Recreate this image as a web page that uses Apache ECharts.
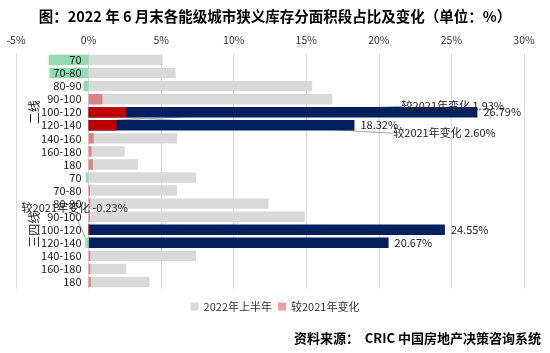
<!DOCTYPE html>
<html>
<head>
<meta charset="utf-8">
<script src="https://cdn.jsdelivr.net/npm/echarts@6.0.0/dist/echarts.min.js"></script>
<style>
  html, body { margin: 0; padding: 0; background: #fff; }
  #chart { width: 550px; height: 353px; }
</style>
</head>
<body>
<div id="chart"></div>
<script>
// size bands (㎡), repeated for each city tier
const bands = ['70', '70-80', '80-90', '90-100', '100-120', '120-140', '140-160', '160-180', '180'];
const tiers = ['二线', '三四线'];
const categories = tiers.flatMap(() => bands);

// 2022 H1 share of inventory (%)
const share2022 = [
  5.1, 6.0, 15.4, 16.8, 26.79, 18.32, 6.1, 2.5, 3.4,
  7.4, 6.1, 12.4, 14.9, 24.55, 20.67, 7.4, 2.6, 4.2
];
// change vs 2021 (percentage points)
const change2021 = [
  -2.75, -2.7, -0.35, 0.95, 2.60, 1.93, 0.35, 0.2, 0.3,
  -0.2, 0.1, 0.12, 0.1, 0.08, -0.23, 0.12, 0.12, 0.15
];
// rows that get highlighted and labelled
const keyRows = [4, 5, 13, 14];
const changeLabelRows = [4, 5, 14];

const FONT = '"Noto Sans CJK SC", "Noto Sans", sans-serif';
const GRAY = '#d9d9d9';
const NAVY = '#002060';
const PINK = '#d98585';
const DARKRED = '#c00000';
const GREEN = '#96dab4';

// relative offsets of the moved change labels
const changeLabelShift = {
  4: { dx: 262, dy: 21 },
  5: { dx: 280, dy: -19 },
  14: { dx: -72, dy: -35 }
};

const chart = echarts.init(document.getElementById('chart'), null, { renderer: 'canvas' });

const shareData = share2022.map((v, i) => {
  if (!keyRows.includes(i)) return v;
  return {
    value: v,
    itemStyle: { color: NAVY },
    label: {
      show: true,
      position: 'right',
      distance: 6,
      formatter: (p) => p.value.toFixed(2) + '%'
    }
  };
});

const changeData = change2021.map((v, i) => {
  let color = v < 0 ? GREEN : PINK;
  if (keyRows.includes(i) && v > 0) color = DARKRED;
  const item = { value: v, itemStyle: { color } };
  if (changeLabelRows.includes(i)) {
    item.label = {
      show: true,
      position: 'right',
      formatter: (p) => '较2021年变化 ' + p.value.toFixed(2) + '%'
    };
  }
  return item;
});

chart.setOption({
  animation: false,
  backgroundColor: '#fff',
  title: {
    text: '图：2022 年 6 月末各能级城市狭义库存分面积段占比及变化（单位：%）',
    left: 'center',
    top: 4,
    textStyle: { fontFamily: FONT, fontSize: 14.5, fontWeight: 'bold', color: '#000' }
  },
  legend: {
    bottom: 36,
    left: 'center',
    icon: 'rect',
    itemWidth: 8,
    itemHeight: 8,
    itemGap: 6,
    textStyle: { fontFamily: FONT, fontSize: 11, color: '#333' },
    data: [
      { name: '2022年上半年', itemStyle: { color: GRAY } },
      { name: '较2021年变化', itemStyle: { color: '#e8a0a0' } }
    ]
  },
  grid: { left: 16, right: 26, top: 53.5, bottom: 64.5, outerBoundsMode: 'none' },
  xAxis: {
    type: 'value',
    position: 'top',
    min: -5,
    max: 30,
    interval: 5,
    axisLine: { show: false },
    axisTick: { show: false },
    axisLabel: {
      formatter: (v) => v + '%',
      fontFamily: FONT,
      fontSize: 10.5,
      color: '#333',
      margin: 8
    },
    splitLine: { lineStyle: { color: '#d9d9d9', width: 1 } }
  },
  yAxis: {
    type: 'category',
    data: categories,
    inverse: true,
    z: 10,
    axisLine: { show: false },
    axisTick: { show: false },
    splitLine: { show: false },
    axisLabel: { fontFamily: FONT, fontSize: 11, color: '#222', margin: 7, interval: 0 }
  },
  series: [
    {
      name: '2022年上半年',
      type: 'bar',
      barCategoryGap: '20%',
      itemStyle: { color: GRAY },
      label: { fontFamily: FONT, fontSize: 11, color: '#222' },
      data: shareData
    },
    {
      name: '较2021年变化',
      type: 'bar',
      barGap: '-100%',
      barCategoryGap: '20%',
      itemStyle: { color: PINK },
      label: { fontFamily: FONT, fontSize: 11, color: '#222' },
      labelLine: { show: true, lineStyle: { color: '#a6a6a6', width: 1 } },
      labelLayout: (p) => changeLabelShift[p.dataIndex] || {},
      data: changeData
    }
  ]
});

// move the category labels next to the 0% line
const zeroShift = chart.convertToPixel({ xAxisIndex: 0 }, 0) - chart.convertToPixel({ xAxisIndex: 0 }, -5);

// tier labels, centred on each group of rows
const graphics = tiers.map((t, k) => {
  const mid = k * bands.length + (bands.length - 1) / 2;
  const y = chart.convertToPixel({ yAxisIndex: 0 }, mid);
  return {
    type: 'text',
    x: 34,
    y: y,
    rotation: Math.PI / 2,
    style: {
      text: t,
      font: '12px ' + FONT,
      fill: '#222',
      align: 'center',
      verticalAlign: 'middle'
    }
  };
});
graphics.push({
  type: 'text',
  right: 9,
  bottom: 8,
  style: {
    text: '资料来源：  CRIC 中国房地产决策咨询系统',
    font: 'bold 13px ' + FONT,
    fill: '#000'
  }
});
chart.setOption({ yAxis: { offset: -zeroShift }, graphic: graphics });
</script>
</body>
</html>
